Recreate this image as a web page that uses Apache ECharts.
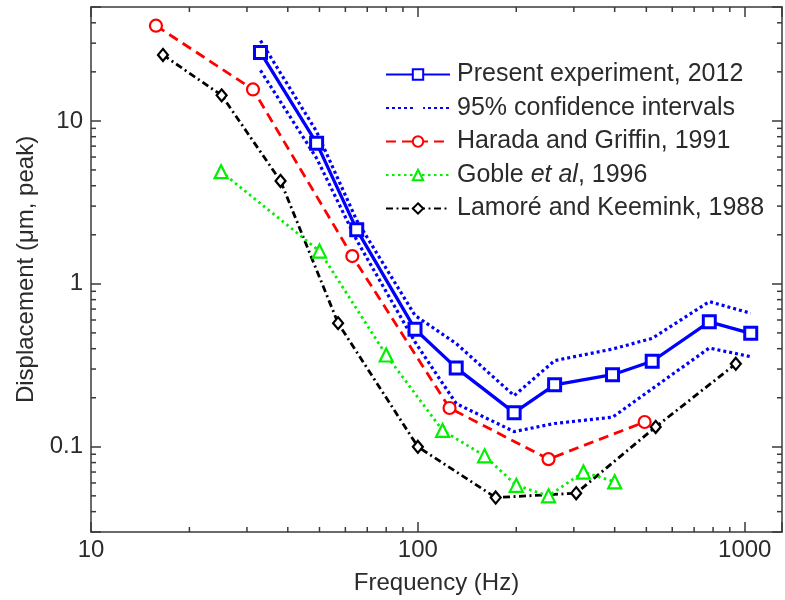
<!DOCTYPE html>
<html><head><meta charset="utf-8">
<script src="https://cdn.jsdelivr.net/npm/echarts@6/dist/echarts.min.js"></script>
<style>html,body{margin:0;padding:0;background:#fff}#c{width:785px;height:600px}</style>
</head><body><div id="c"></div>
<script>
// ---- data ----
const presentFreq = [33, 49, 65, 98, 131, 197, 262, 394, 521, 779, 1043];
const presentDisp = [26.3, 7.3, 2.15, 0.527, 0.305, 0.162, 0.24, 0.277, 0.335, 0.585, 0.497];
const ciUpper = [31.1, 8.6, 2.45, 0.64, 0.43, 0.206, 0.338, 0.398, 0.463, 0.778, 0.66];
const ciLower = [20.4, 5.9, 1.85, 0.44, 0.184, 0.124, 0.139, 0.152, 0.227, 0.404, 0.357];
const harFreq = [15.8, 31.3, 63, 125, 251, 494];
const harDisp = [38.4, 15.6, 1.48, 0.173, 0.084, 0.142];
const gobFreq = [25, 50, 80, 119, 160, 200, 251, 321, 400];
const gobDisp = [4.88, 1.59, 0.366, 0.126, 0.088, 0.058, 0.050, 0.070, 0.061];
const lamFreq = [16.6, 25.1, 38, 57, 100, 173, 305, 534, 939];
const lamDisp = [25.4, 14.35, 4.28, 0.574, 0.1, 0.0488, 0.0519, 0.1324, 0.323];

const xTickLabels = [10, 100, 1000];
const yTickLabels = [0.1, 1, 10];
const xMinorTicks = [20, 30, 40, 50, 60, 70, 80, 90, 200, 300, 400, 500, 600, 700, 800, 900];
const yMinorTicks = [0.04, 0.05, 0.06, 0.07, 0.08, 0.09, 0.2, 0.3, 0.4, 0.5, 0.6, 0.7, 0.8, 0.9,
                     2, 3, 4, 5, 6, 7, 8, 9, 20, 30, 40];

const seriesNames = ['Present experiment, 2012', '95% confidence intervals',
                     'Harada and Griffin, 1991', 'Goble et al, 1996', 'Lamoré and Keemink, 1988'];

// ---- chart ----
const X_MIN = 10, X_MAX = 1300, Y_MIN = 0.03, Y_MAX = 50;
const FONT = '"Liberation Sans", Arial, sans-serif';
const TXT = '#2b2b2b';
const AX = '#3a3a3a';
const zip = (a, b) => a.map((v, i) => [v, b[i]]);
const labelFmt = list => v => {
  const hit = list.find(t => Math.abs(t - v) / t < 1e-6);
  return hit === undefined ? '' : String(hit);
};

const baseX = {
  type: 'log', logBase: 10, min: X_MIN, max: X_MAX,
  axisLine: { show: true, lineStyle: { color: AX, width: 1.5 } },
  axisTick: { show: true, inside: true, length: 10, lineStyle: { color: AX, width: 1.5 } },
  splitLine: { show: false },
  minorTick: { show: false }
};
const baseY = {
  type: 'log', logBase: 10, min: Y_MIN, max: Y_MAX,
  axisLine: { show: true, lineStyle: { color: AX, width: 1.5 } },
  axisTick: { show: true, inside: true, length: 10, lineStyle: { color: AX, width: 1.5 } },
  splitLine: { show: false },
  minorTick: { show: false }
};

const lineSeries = (name, data, color, lineType, width, symbol, size, border) => ({
  name, type: 'line', data, symbol, symbolSize: size, showSymbol: symbol !== 'none',
  lineStyle: { color, width, type: lineType },
  itemStyle: { color: '#fff', borderColor: color, borderWidth: border },
  emphasis: { disabled: true }
});

const chart = echarts.init(document.getElementById('c'), null, { renderer: 'canvas' });
chart.setOption({
  animation: false,
  backgroundColor: '#fff',
  grid: { left: 91, top: 7, width: 695.5, height: 526, containLabel: false },
  xAxis: [
    Object.assign({}, baseX, {
      position: 'bottom',
      name: 'Frequency (Hz)', nameLocation: 'middle', nameGap: 39,
      nameTextStyle: { fontFamily: FONT, fontSize: 24, color: TXT },
      axisLabel: { show: true, margin: 6, fontFamily: FONT, fontSize: 24, color: TXT,
                   formatter: labelFmt(xTickLabels), showMinLabel: true, showMaxLabel: true }
    }),
    Object.assign({}, baseX, { position: 'top', axisLabel: { show: false } })
  ],
  yAxis: [
    Object.assign({}, baseY, {
      position: 'left',
      name: 'Displacement (\u03bcm, peak)', nameLocation: 'middle', nameGap: 53,
      nameTextStyle: { fontFamily: FONT, fontSize: 24, color: TXT },
      axisLabel: { show: true, margin: 8, fontFamily: FONT, fontSize: 24, color: TXT,
                   formatter: labelFmt(yTickLabels) }
    }),
    Object.assign({}, baseY, { position: 'right', axisLabel: { show: false } })
  ],
  legend: {
    data: seriesNames,
    orient: 'vertical', left: 385, top: 62, padding: 0,
    itemWidth: 64, itemHeight: 13, itemGap: 8.5,
    selectedMode: false,
    formatter: n => n === 'Goble et al, 1996' ? 'Goble {i|et al}, 1996' : n,
    textStyle: { fontFamily: FONT, fontSize: 25, color: TXT, padding: [0, 0, 0, 2],
                 rich: { i: { fontFamily: FONT, fontSize: 25, fontStyle: 'italic', color: TXT } } }
  },
  series: [
    {
      type: 'custom', silent: true, clip: false, z: 1,
      data: xMinorTicks.map(v => [v, 1]),
      renderItem: (params, api) => {
        const x = api.coord([api.value(0), 1])[0];
        const cs = params.coordSys;
        const st = { stroke: AX, lineWidth: 1.5 };
        return { type: 'group', children: [
          { type: 'line', shape: { x1: x, y1: cs.y + cs.height, x2: x, y2: cs.y + cs.height - 5 }, style: st },
          { type: 'line', shape: { x1: x, y1: cs.y, x2: x, y2: cs.y + 5 }, style: st }
        ] };
      }
    },
    {
      type: 'custom', silent: true, clip: false, z: 1,
      data: yMinorTicks.map(v => [100, v]),
      renderItem: (params, api) => {
        const y = api.coord([100, api.value(1)])[1];
        const cs = params.coordSys;
        const st = { stroke: AX, lineWidth: 1.5 };
        return { type: 'group', children: [
          { type: 'line', shape: { x1: cs.x, y1: y, x2: cs.x + 5, y2: y }, style: st },
          { type: 'line', shape: { x1: cs.x + cs.width, y1: y, x2: cs.x + cs.width - 5, y2: y }, style: st }
        ] };
      }
    },
    lineSeries(seriesNames[4], zip(lamFreq, lamDisp), '#000000', [7, 3.5, 2, 3.5], 2.8, 'diamond', [10, 12], 2.2),
    lineSeries(seriesNames[3], zip(gobFreq, gobDisp), '#00f000', [2.5, 3.5], 2.8, 'triangle', 13, 2.2),
    lineSeries(seriesNames[2], zip(harFreq, harDisp), '#ff0000', [10, 6], 2.8, 'circle', 12, 2.2),
    lineSeries(seriesNames[1], zip(presentFreq, ciUpper), '#0000ff', [3, 3], 3.2, 'none', 0, 0),
    lineSeries(seriesNames[1], zip(presentFreq, ciLower), '#0000ff', [3, 3], 3.2, 'none', 0, 0),
    lineSeries(seriesNames[0], zip(presentFreq, presentDisp), '#0000ff', 'solid', 3.3, 'rect', 12, 3)
  ]
});
</script>
</body></html>
